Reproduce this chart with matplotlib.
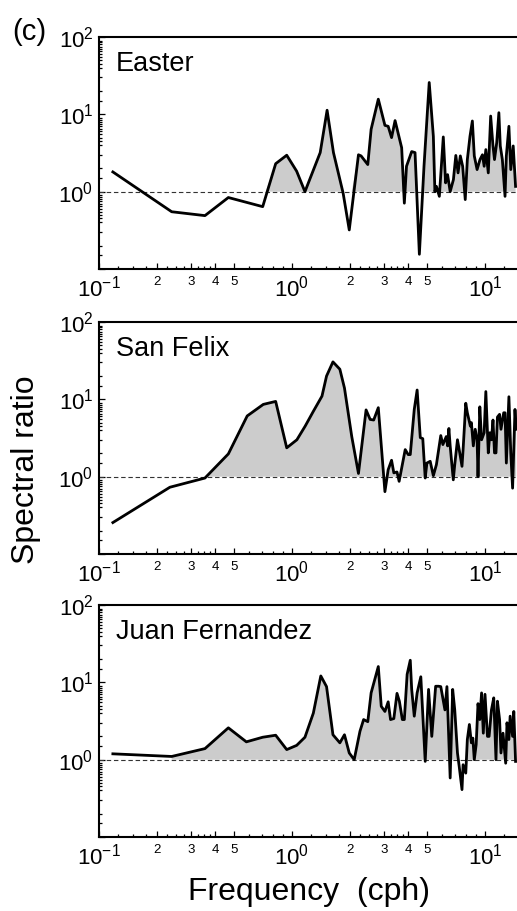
import numpy as np
import matplotlib
matplotlib.use("Agg")
import matplotlib.pyplot as plt

plt.rcParams['font.family'] = ['Liberation Sans', 'DejaVu Sans']
plt.rcParams['mathtext.fontset'] = 'custom'
plt.rcParams['mathtext.rm'] = 'Liberation Sans'
plt.rcParams['mathtext.it'] = 'Liberation Sans'

# Easter
f_e = [0.118, 0.238, 0.354, 0.468, 0.705, 0.823, 0.939, 1.057, 1.167, 1.40,
       1.52, 1.64, 1.84, 1.98, 2.21, 2.28, 2.47, 2.57, 2.80, 3.03,
       3.15, 3.28, 3.42, 3.70, 3.82, 3.92, 4.17, 4.34, 4.57, 4.83,
       5.14, 5.40, 5.50, 5.60, 5.80, 6.08, 6.25, 6.40, 6.60, 6.86,
       7.06, 7.25, 7.45, 7.66, 7.90, 8.10, 8.36, 8.60, 8.80, 9.10,
       9.42, 9.70, 9.90, 10.1, 10.4, 10.7, 11.0, 11.2, 11.5, 11.8,
       12.0, 12.3, 12.7, 12.9, 13.3, 13.6, 14.0, 14.4]
r_e = [1.8, 0.55, 0.49, 0.84, 0.64, 2.3, 2.96, 1.84, 1.0, 3.2,
       11.3, 3.2, 0.96, 0.32, 3.0, 2.9, 2.24, 6.4, 15.7, 7.2,
       7.0, 5.0, 8.3, 3.7, 0.71, 2.13, 3.3, 3.2, 0.155, 2.13,
       25.8, 5.2, 1.0, 1.17, 0.87, 5.1, 1.3, 1.66, 1.0, 1.43,
       2.94, 1.75, 2.9, 2.13, 0.79, 2.6, 5.2, 8.2, 2.9, 1.93,
       2.6, 3.0, 2.13, 3.5, 1.75, 9.5, 3.9, 2.6, 4.3, 10.5,
       3.9, 2.6, 0.87, 2.9, 7.0, 1.93, 3.9, 1.17]

# San Felix
f_s = [0.118, 0.233, 0.354, 0.468, 0.586, 0.71, 0.823, 0.939, 1.06, 1.17,
       1.29, 1.43, 1.51, 1.63, 1.77, 1.87, 2.04, 2.21, 2.42, 2.54,
       2.65, 2.80, 3.03, 3.15, 3.28, 3.37, 3.50, 3.59, 3.86, 4.0,
       4.1, 4.3, 4.45, 4.62, 4.76, 4.9, 5.0, 5.2, 5.4, 5.6,
       5.9, 6.05, 6.3, 6.4, 6.5, 6.6, 6.85, 6.97, 7.2, 7.35,
       7.6, 7.7, 7.95, 8.1, 8.4, 8.5, 8.7, 8.9, 9.1, 9.2,
       9.4, 9.6, 9.9, 10.1, 10.4, 10.6, 10.8, 11.0, 11.2, 11.4,
       11.6, 11.9, 12.1, 12.5, 12.7, 12.9, 13.3, 13.6, 13.9, 14.3,
       14.5]
r_s = [0.255, 0.73, 0.96, 1.97, 6.1, 8.6, 9.4, 2.36, 3.0, 4.5,
       7.0, 11, 20, 30.5, 24.5, 14, 3.3, 1.1, 7.3, 5.5,
       5.4, 7.8, 0.64, 1.23, 1.63, 1.12, 1.15, 0.87, 2.24, 1.93,
       1.93, 7.4, 13.2, 3.2, 3.1, 0.96, 1.5, 1.58, 1.03, 1.43,
       3.4, 2.6, 3.3, 2.5, 4.2, 2.5, 0.91, 1.43, 3.0, 2.24,
       1.36, 2.24, 8.9, 6.7, 4.5, 5.0, 2.5, 4.1, 3.0, 1.0,
       8.0, 3.0, 3.7, 12.6, 2.03, 3.7, 3.0, 5.4, 2.03, 2.03,
       5.9, 6.4, 4.1, 6.7, 6.7, 1.5, 10.8, 2.03, 0.71, 7.4,
       4.1]

# Juan Fernandez
f_j = [0.118, 0.238, 0.354, 0.468, 0.58, 0.705, 0.823, 0.939, 1.057, 1.167,
       1.29, 1.41, 1.51, 1.63, 1.77, 1.87, 1.98, 2.1, 2.25, 2.35,
       2.47, 2.57, 2.80, 2.9, 3.03, 3.15, 3.24, 3.37, 3.5, 3.6,
       3.73, 3.82, 3.95, 4.1, 4.17, 4.3, 4.45, 4.65, 4.9, 5.1,
       5.3, 5.55, 5.75, 5.9, 6.2, 6.35, 6.6, 6.8, 6.97, 7.2,
       7.35, 7.6, 7.7, 7.95, 8.1, 8.3, 8.5, 8.65, 8.8, 9.0,
       9.2, 9.4, 9.6, 9.8, 10.0, 10.3, 10.5, 10.8, 11.1, 11.4,
       11.6, 11.9, 12.1, 12.4, 12.8, 13.0, 13.3, 13.5, 13.9, 14.1,
       14.4]
r_j = [1.19, 1.1, 1.39, 2.58, 1.70, 1.95, 2.07, 1.35, 1.53, 1.95,
       4.0, 12.1, 8.8, 2.1, 1.65, 2.1, 1.22, 1.0, 2.33, 3.3,
       3.1, 7.3, 16, 4.9, 4.2, 5.6, 3.3, 3.4, 7.2, 5.7,
       3.3, 3.3, 12.7, 19.3, 8.1, 3.65, 7.3, 11.8, 0.95, 8.1,
       2.0, 8.9, 8.9, 8.8, 4.4, 8.8, 0.58, 8.1, 4.4, 1.22,
       0.82, 0.41, 0.86, 0.67, 1.82, 2.85, 1.65, 1.9, 1.0, 1.57,
       5.3, 3.3, 7.3, 2.2, 7.0, 2.0, 2.0, 4.4, 6.3, 1.0,
       5.7, 3.3, 1.22, 2.2, 0.9, 3.0, 1.82, 3.65, 2.0, 4.2,
       0.95]

stations = ['Easter', 'San Felix', 'Juan Fernandez']
series = [(f_e, r_e), (f_s, r_s), (f_j, r_j)]

x_major = [0.1, 0.2, 0.3, 0.4, 0.5, 1, 2, 3, 4, 5, 10]
x_labels = [r'$10^{-1}$', '2', '3', '4', '5', r'$10^{0}$',
            '2', '3', '4', '5', r'$10^{1}$']
x_minor_steps = [1.25, 1.5, 1.75, 2.25, 2.5, 2.75, 3.25, 3.5, 3.75, 6, 7, 8, 9]
y_major = [0.1, 1, 10, 100]
y_labels = ['', r'$10^{0}$', r'$10^{1}$', r'$10^{2}$']
y_minor_steps = [1.5, 2, 3, 4, 4.5, 5, 5.5, 6, 6.5, 7, 7.5, 8, 8.5, 9]

W, H = 517, 911
fig = plt.figure(figsize=(W / 100, H / 100), dpi=100)

left = 99 / W
width = np.log10(200) * 193 / W
tops = [37, 322, 605]
ph = 232

for k in range(3):
    f = np.array(series[k][0])
    r = np.array(series[k][1])
    ax = fig.add_axes([left, 1 - (tops[k] + ph) / H, width, ph / H])
    ax.set_xscale('log')
    ax.set_yscale('log')

    # shading starts at the second estimate
    ax.fill_between(f[1:], r[1:], 1, where=r[1:] > 1, interpolate=True,
                    color='#cccccc', lw=0, zorder=1)
    ax.axhline(1, color='#333333', lw=0.8, ls=(0, (4, 2.5)), zorder=2)
    ax.plot(f, r, color='black', lw=2.0, zorder=3)

    for s in ['left', 'bottom', 'top']:
        ax.spines[s].set_linewidth(1.5)
    ax.spines['right'].set_visible(False)

    ax.set_xticks(x_major)
    ax.set_xticklabels(x_labels)
    ax.set_xticks([d * m for d in [0.1, 1, 10] for m in x_minor_steps],
                  minor=True)
    ax.xaxis.set_minor_formatter(plt.NullFormatter())
    ax.set_yticks(y_major)
    ax.set_yticklabels(y_labels)
    ax.set_yticks([d * m for d in [0.1, 1, 10] for m in y_minor_steps],
                  minor=True)
    ax.yaxis.set_minor_formatter(plt.NullFormatter())
    ax.set_xlim(0.1, 20)
    ax.set_ylim(0.1, 100)

    ax.tick_params(which='both', direction='in', top=False, right=False,
                   width=0.9)
    ax.tick_params(axis='x', which='major', length=4, pad=5)
    ax.tick_params(axis='x', which='minor', length=2.2)
    ax.tick_params(axis='y', which='major', length=4.5, pad=4,
                   labelsize=16)
    ax.tick_params(axis='y', which='minor', length=2.5)
    for lab, txt in zip(ax.get_xticklabels(), x_labels):
        lab.set_fontsize(16 if txt.startswith('$') else 9.5)

    ax.annotate(stations[k], xy=(0, 1), xycoords='axes fraction',
                xytext=(12, -10), textcoords='offset points',
                ha='left', va='top', fontsize=19.5)

fig.text(12 / W, 1 - 18 / H, '(c)', fontsize=21, ha='left', va='top')
fig.text(26 / W, 1 - 470 / H, 'Spectral ratio', fontsize=23,
         rotation=90, ha='center', va='center')
fig.text(309 / W, 1 - 892 / H, 'Frequency  (cph)', fontsize=23,
         ha='center', va='center')

fig.savefig('out.png', dpi=100)
